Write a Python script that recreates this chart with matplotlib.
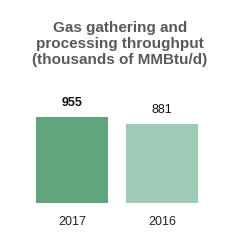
import matplotlib
matplotlib.use('Agg')
import matplotlib.pyplot as plt

years = ['2017', '2016']
throughput = [955, 881]
bar_colors = ['#5fa67f', '#9fcab5']
title = 'Gas gathering and\nprocessing throughput\n(thousands of MMBtu/d)'

plt.rcParams['font.family'] = ['Liberation Sans', 'DejaVu Sans']

W, H = 240, 253
fig = plt.figure(figsize=(W / 100, H / 100), dpi=100)
# axes placed in pixel units: baseline at y=204 from top
ax = fig.add_axes([0, 49 / H, 1, 120 / H])
x = range(len(years))
ax.bar(x, throughput, width=0.8, color=bar_colors)
ax.set_xlim(-0.8, 1.867)
ax.set_ylim(0, 120 * 955 / 86)
ax.axis('off')

for i, v in enumerate(throughput):
    ax.annotate(str(v), (i, v), xytext=(0, 10.5), textcoords='offset points',
                ha='center', va='center', fontsize=9,
                fontweight='bold' if i == 0 else 'normal', color='#111111')
    ax.annotate(years[i], (i, 0), xytext=(0, -13), textcoords='offset points',
                ha='center', va='center', fontsize=9, color='#222222')

fig.text(120 / W, 1 - 44 / H, title, ha='center', va='center', fontsize=11,
         fontweight='bold', color='#58595b', linespacing=1.2)

fig.savefig('out.png', dpi=100)
